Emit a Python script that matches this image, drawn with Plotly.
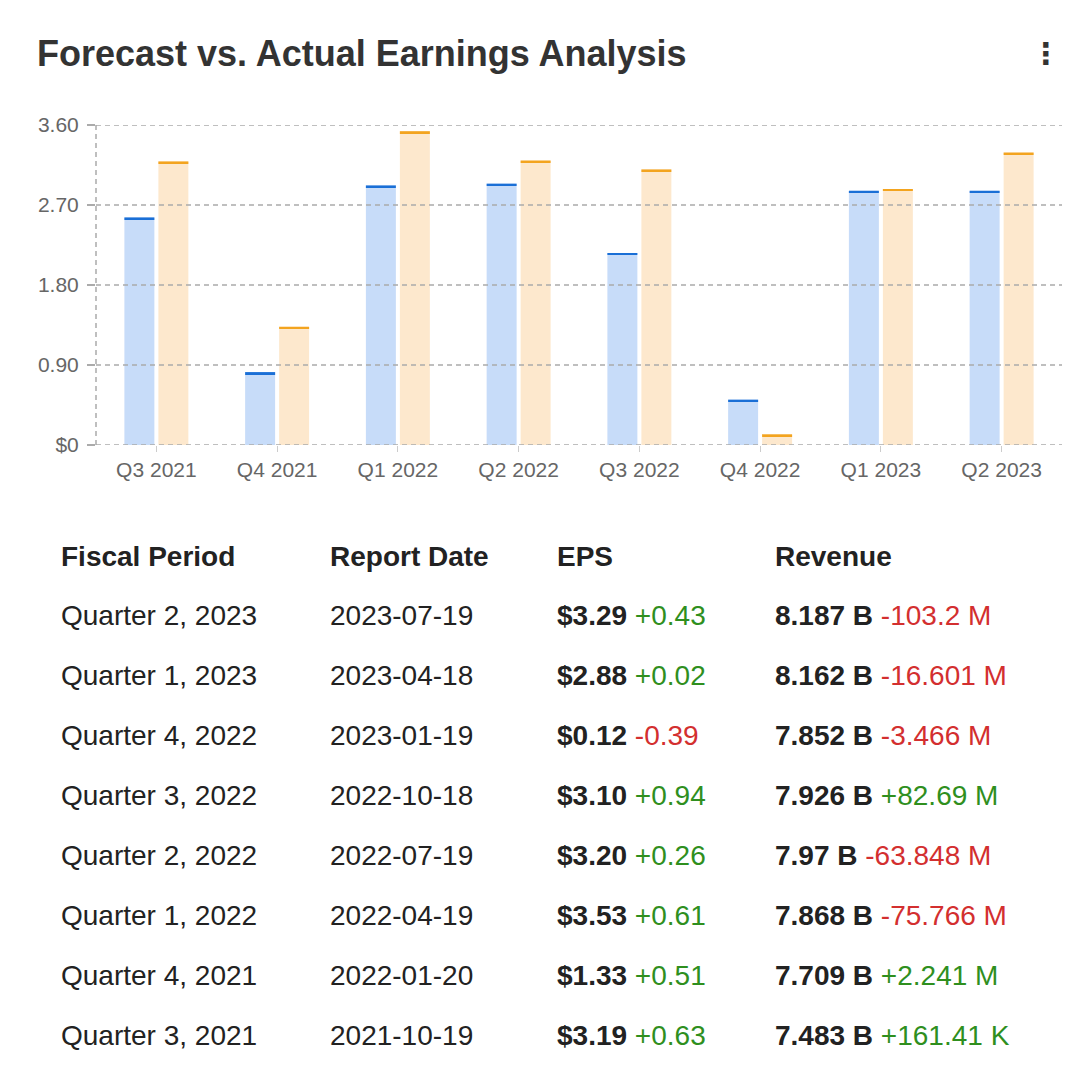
import plotly.graph_objects as go

# ---------------- data ----------------
quarters = ["Q3 2021", "Q4 2021", "Q1 2022", "Q2 2022", "Q3 2022", "Q4 2022", "Q1 2023", "Q2 2023"]
forecast_eps = [2.56, 0.82, 2.92, 2.94, 2.16, 0.51, 2.86, 2.86]
actual_eps = [3.19, 1.33, 3.53, 3.20, 3.10, 0.12, 2.88, 3.29]
y_ticks = [0, 0.9, 1.8, 2.7, 3.6]
y_tick_labels = ["$0", "0.90", "1.80", "2.70", "3.60"]

table_headers = ["Fiscal Period", "Report Date", "EPS", "Revenue"]
fiscal_periods = ["Quarter 2, 2023", "Quarter 1, 2023", "Quarter 4, 2022", "Quarter 3, 2022",
                  "Quarter 2, 2022", "Quarter 1, 2022", "Quarter 4, 2021", "Quarter 3, 2021"]
report_dates = ["2023-07-19", "2023-04-18", "2023-01-19", "2022-10-18",
                "2022-07-19", "2022-04-19", "2022-01-20", "2021-10-19"]
eps_values = ["$3.29", "$2.88", "$0.12", "$3.10", "$3.20", "$3.53", "$1.33", "$3.19"]
eps_surprise = ["+0.43", "+0.02", "-0.39", "+0.94", "+0.26", "+0.61", "+0.51", "+0.63"]
revenue_values = ["8.187 B", "8.162 B", "7.852 B", "7.926 B", "7.97 B", "7.868 B", "7.709 B", "7.483 B"]
revenue_surprise = ["-103.2 M", "-16.601 M", "-3.466 M", "+82.69 M", "-63.848 M", "-75.766 M", "+2.241 M", "+161.41 K"]

# ---------------- styling ----------------
OFF = 8                      # page body margin
W, H = 1079 - 2 * OFF, 1076 - 2 * OFF
L, R, T, B = 96 - OFF, 1062 - OFF, 125 - OFF, 445 - OFF   # plot area in figure pixels
FONT = "Liberation Sans, Arial, Helvetica, sans-serif"
BLUE_FILL, BLUE_CAP = "#c7dcf9", "#1a6fd6"
ORANGE_FILL, ORANGE_CAP = "#fde8cd", "#f3a41f"
GREEN, RED, DARK = "#2f8f1e", "#d32f2f", "#222222"
GRID = "#ababab"
DASH = "5px,4px"
CAP = 0.022

fig = go.Figure()
fig.add_trace(go.Bar(x=quarters, y=forecast_eps, offsetgroup="f", marker=dict(color=BLUE_FILL, line_width=0),
                     name="Forecast", hoverinfo="skip"))
fig.add_trace(go.Bar(x=quarters, y=[CAP] * len(quarters), base=[v - CAP for v in forecast_eps], offsetgroup="f",
                     marker=dict(color=BLUE_CAP, line_width=0), hoverinfo="skip"))
fig.add_trace(go.Bar(x=quarters, y=actual_eps, offsetgroup="a", marker=dict(color=ORANGE_FILL, line_width=0),
                     name="Actual", hoverinfo="skip"))
fig.add_trace(go.Bar(x=quarters, y=[CAP] * len(quarters), base=[v - CAP for v in actual_eps], offsetgroup="a",
                     marker=dict(color=ORANGE_CAP, line_width=0), hoverinfo="skip"))


def px(xp):
    """reference page x pixel -> paper coordinate"""
    return (xp - OFF - L) / (R - L)


def py(yp):
    """reference page y pixel -> paper coordinate"""
    return (B - (yp - OFF)) / (B - T)


annotations = []
# title
annotations.append(dict(text="<b>Forecast vs. Actual Earnings Analysis</b>", x=px(35), y=py(54),
                        xref="paper", yref="paper", xanchor="left", yanchor="middle", showarrow=False,
                        font=dict(family=FONT, size=36, color="#333333")))
# kebab menu
annotations.append(dict(text="<b>⋮</b>", x=px(1046), y=py(54), xref="paper", yref="paper",
                        xanchor="center", yanchor="middle", showarrow=False,
                        font=dict(family="DejaVu Sans", size=30, color="#333333")))

col_x = [59, 328, 555, 773]
for cx, h in zip(col_x, table_headers):
    annotations.append(dict(text=f"<b>{h}</b>", x=px(cx), y=py(556), xref="paper", yref="paper",
                            xanchor="left", yanchor="middle", showarrow=False,
                            font=dict(family=FONT, size=28, color=DARK)))


def colored(s):
    c = GREEN if s.startswith("+") else RED
    return f"<span style='color:{c}'>{s}</span>"


for i in range(len(fiscal_periods)):
    yy = py(615 + 60 * i)
    cells = [fiscal_periods[i], report_dates[i],
             f"<b>{eps_values[i]}</b> {colored(eps_surprise[i])}",
             f"<b>{revenue_values[i]}</b> {colored(revenue_surprise[i])}"]
    for cx, txt in zip(col_x, cells):
        annotations.append(dict(text=txt, x=px(cx), y=yy, xref="paper", yref="paper",
                                xanchor="left", yanchor="middle", showarrow=False,
                                font=dict(family=FONT, size=28, color=DARK)))

shapes = [
    # dashed left axis line
    dict(type="line", xref="paper", yref="paper", x0=0, x1=0, y0=0, y1=1,
         line=dict(color=GRID, width=1.5, dash=DASH), layer="above"),
]
# dashed horizontal gridlines, drawn above the bars as in the reference
for yv in y_ticks:
    shapes.append(dict(type="line", xref="paper", yref="y", x0=0, x1=1, y0=yv, y1=yv,
                       line=dict(color=GRID, width=1.5, dash=DASH), layer="above"))

fig.update_layout(
    width=W, height=H,
    margin=dict(l=L, r=W - R, t=T, b=H - B, autoexpand=False),
    paper_bgcolor="white", plot_bgcolor="white",
    barmode="group", bargap=0.437, bargroupgap=0.118,
    showlegend=False,
    font=dict(family=FONT, color="#666666"),
    annotations=annotations,
    shapes=shapes,
    xaxis=dict(type="category", showgrid=False, zeroline=False, showline=False,
               ticks="outside", ticklen=6, tickcolor="#cccccc", tickwidth=1,
               tickfont=dict(family=FONT, size=21, color="#666666")),
    yaxis=dict(range=[0, 3.6], tickvals=y_ticks, ticktext=y_tick_labels,
               showgrid=False, zeroline=False, showline=False,
               ticks="outside", ticklen=8, tickcolor=GRID, tickwidth=1.5,
               ticklabelstandoff=4,
               tickfont=dict(family=FONT, size=21, color="#666666")),
)

fig.write_html("out.html")
